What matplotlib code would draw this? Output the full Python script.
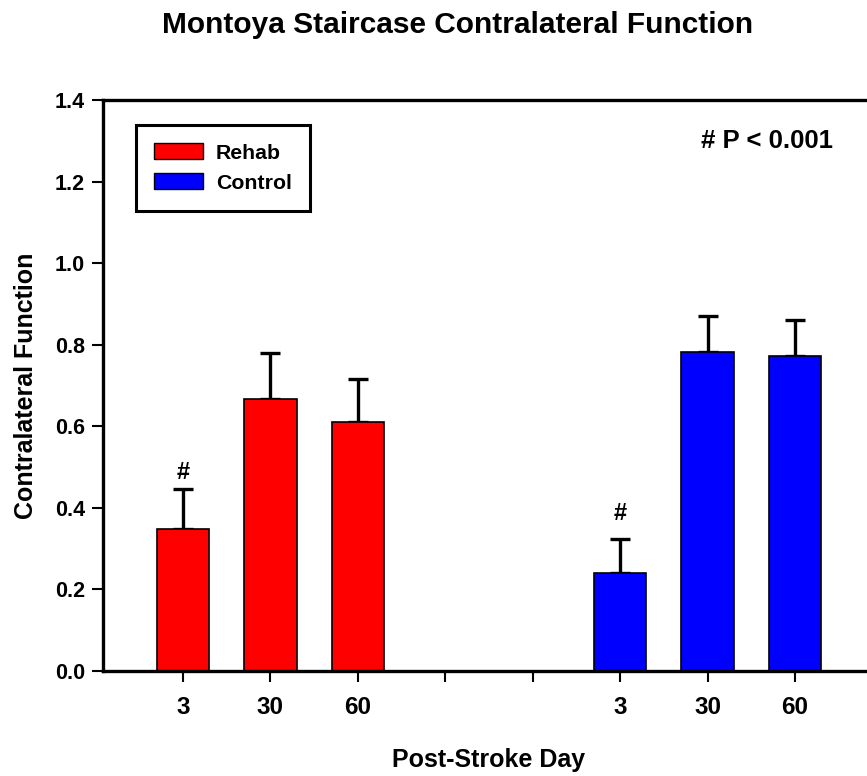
import matplotlib
matplotlib.use("Agg")
import matplotlib.pyplot as plt
from matplotlib.patches import Patch

plt.rcParams['font.family'] = ['Liberation Sans', 'DejaVu Sans']
plt.rcParams['font.weight'] = 'bold'

title = "Montoya Staircase Contralateral Function"
groups = ["Rehab", "Control"]
tick_labels = ["3", "30", "60", "", "", "3", "30", "60"]
rehab_days = ["3", "30", "60"]
rehab_values = [0.348, 0.668, 0.610]
rehab_errors = [0.098, 0.112, 0.106]
control_days = ["3", "30", "60"]
control_values = [0.240, 0.783, 0.773]
control_errors = [0.083, 0.087, 0.088]
significant_rehab = [True, False, False]
significant_control = [True, False, False]

fig = plt.figure(figsize=(8.67, 7.76), dpi=100)
ax = fig.add_axes([103/867, 105/776, 772/867, 571/776])

rehab_x = [1, 2, 3]
control_x = [6, 7, 8]
w = 0.6
ax.bar(rehab_x, rehab_values, width=w, color='#ff0000', edgecolor='black', linewidth=1.2, zorder=2)
ax.errorbar(rehab_x, rehab_values, yerr=[[0]*3, rehab_errors], fmt='none', ecolor='black',
            elinewidth=2.4, capsize=7, capthick=2.4, zorder=1)
ax.bar(control_x, control_values, width=w, color='#0000ff', edgecolor='black', linewidth=1.2, zorder=2)
ax.errorbar(control_x, control_values, yerr=[[0]*3, control_errors], fmt='none', ecolor='black',
            elinewidth=2.4, capsize=7, capthick=2.4, zorder=1)

for x, v, e, s in zip(rehab_x, rehab_values, rehab_errors, significant_rehab):
    if s:
        ax.text(x, v + e + 0.012, "#", ha='center', va='bottom', fontsize=17, fontweight='bold')
for x, v, e, s in zip(control_x, control_values, control_errors, significant_control):
    if s:
        ax.text(x, v + e + 0.035, "#", ha='center', va='bottom', fontsize=17, fontweight='bold')

ax.set_xlim(0.086, 8.914)
ax.set_ylim(0, 1.4)
ax.set_xticks(range(1, 9))
ax.set_xticklabels(tick_labels)
ax.set_yticks([0.0, 0.2, 0.4, 0.6, 0.8, 1.0, 1.2, 1.4])
ax.set_yticklabels([f"{v:.1f}" for v in [0.0, 0.2, 0.4, 0.6, 0.8, 1.0, 1.2, 1.4]])
ax.tick_params(axis='both', direction='out', length=8, width=1.5, labelsize=15.5, pad=5)
ax.tick_params(axis='x', pad=10, labelsize=17.5)
for sp in ax.spines.values():
    sp.set_linewidth(2.4)

ax.set_xlabel("Post-Stroke Day", fontsize=18, fontweight='bold', labelpad=21)
ax.set_ylabel("Contralateral Function", fontsize=18, fontweight='bold', labelpad=12)
fig.text(458/867, 1 - 25/776, title, ha='center', va='center', fontsize=21.5, fontweight='bold')

ax.text(0.9456, 0.928, "# P < 0.001", transform=ax.transAxes, ha='right', va='center',
        fontsize=18.5, fontweight='bold')

handles = [Patch(facecolor='#ff0000', edgecolor='black'), Patch(facecolor='#0000ff', edgecolor='black')]
leg = ax.legend(handles, groups, loc='upper left', bbox_to_anchor=(0.0427, 0.956), borderaxespad=0,
                fontsize=15.3, handlelength=2.3, handleheight=0.8, fancybox=False, framealpha=1,
                edgecolor='black', borderpad=0.85, labelspacing=0.49, handletextpad=0.6)
leg.get_frame().set_linewidth(2.2)

fig.savefig("out.png", dpi=100)
